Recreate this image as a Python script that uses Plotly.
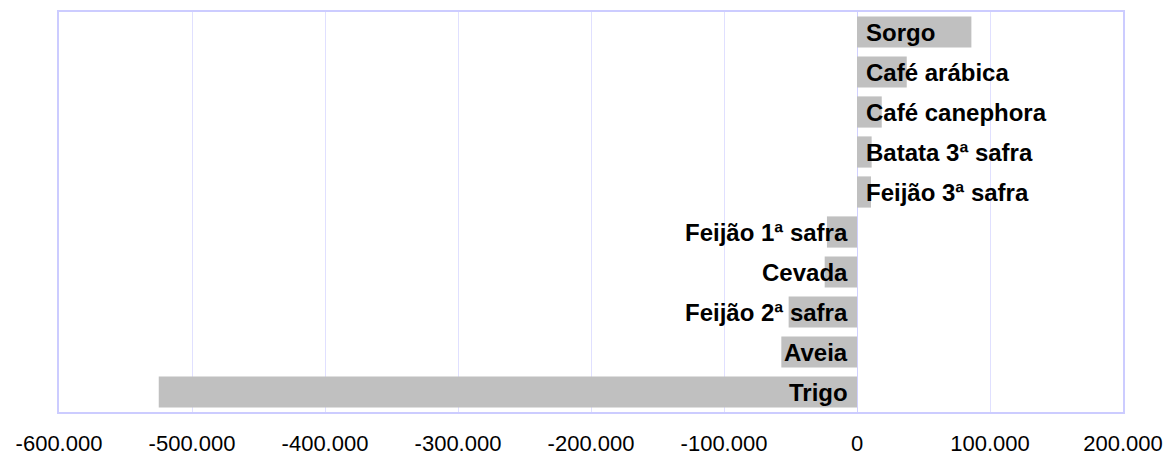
import plotly.graph_objects as go

categories = ["Sorgo", "Café arábica", "Café canephora", "Batata 3ª safra",
              "Feijão 3ª safra", "Feijão 1ª safra", "Cevada", "Feijão 2ª safra",
              "Aveia", "Trigo"]
values = [86000, 37400, 18600, 11000, 10500, -22600, -24300, -51400, -56900, -525000]
tick_vals = [-600000, -500000, -400000, -300000, -200000, -100000, 0, 100000, 200000]
tick_text = ["-600.000", "-500.000", "-400.000", "-300.000", "-200.000",
             "-100.000", "0", "100.000", "200.000"]

fig = go.Figure()
fig.add_trace(go.Bar(
    x=values, y=categories, orientation="h",
    marker=dict(color="#c0c0c0", line=dict(width=0)),
    hoverinfo="x+y",
))

for c, v in zip(categories, values):
    fig.add_annotation(
        x=0, y=c, xref="x", yref="y", text="<b>%s</b>" % c, showarrow=False,
        xanchor="left" if v >= 0 else "right",
        xshift=7 if v >= 0 else -7,
        font=dict(family="Liberation Sans, Arial", size=24, color="black"),
    )

fig.update_layout(
    width=1165, height=455,
    margin=dict(l=59, r=42, t=12, b=43, autoexpand=False),
    paper_bgcolor="white", plot_bgcolor="white",
    bargap=0.22,
    showlegend=False,
    font=dict(family="Liberation Sans, Arial", size=22, color="black"),
)
fig.update_xaxes(
    range=[-600000, 200000], tickvals=tick_vals, ticktext=tick_text,
    automargin=False,
    showgrid=True, gridcolor="#e0e0ff", gridwidth=1,
    zeroline=True, zerolinecolor="#d0d0ff", zerolinewidth=1,
    showline=True, linecolor="#ccccff", linewidth=2, mirror=True,
    ticks="", ticklabelstandoff=11,
)
fig.update_yaxes(
    autorange="reversed", showticklabels=False, showgrid=False, automargin=False,
    showline=True, linecolor="#ccccff", linewidth=2, mirror=True, ticks="",
)

fig.write_html(
    "out.html",
    config={"displayModeBar": False},
    post_script="document.body.style.margin='0';document.body.style.overflow='hidden';",
)
